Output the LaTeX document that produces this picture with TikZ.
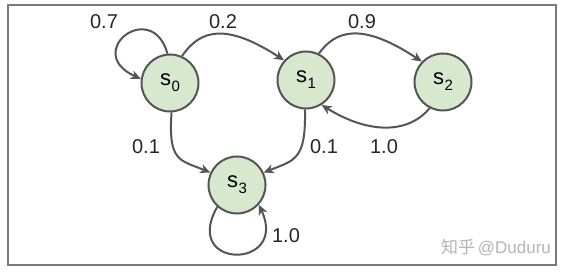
\documentclass[tikz,border=0pt]{standalone}
\usepackage{fontspec}
\setmainfont{Liberation Sans}
\newfontfamily\cjk{Noto Sans CJK SC}
\usetikzlibrary{arrows.meta}
\definecolor{nodefill}{HTML}{D7E8CF}
\definecolor{linegray}{HTML}{555555}
\definecolor{framegray}{HTML}{7A7A7A}
\definecolor{wmgray}{HTML}{B4B4B4}
\newcommand{\stname}[1]{{\fontsize{22}{22}\selectfont s\kern0.5pt\raisebox{-6pt}{\fontsize{15}{15}\selectfont #1}}}
\begin{document}
\begin{tikzpicture}[x=1pt,y=-1pt,
  state/.style={circle,draw=linegray,line width=2pt,fill=nodefill,minimum size=57pt,inner sep=0pt},
  edge/.style={draw=linegray,line width=2pt,-{Stealth[length=10pt,width=9pt,inset=3pt]}},
  lbl/.style={font=\fontsize{20}{20}\selectfont,inner sep=0pt,text=black!85}]
\useasboundingbox (0,0) rectangle (566,273);
\draw[framegray,line width=1.2pt] (8,5) rectangle (556,265);
\node[state] (s0) at (170,83) {\stname{0}};
\node[state] (s1) at (306,80) {\stname{1}};
\node[state] (s2) at (443,82) {\stname{2}};
\node[state] (s3) at (237,185) {\stname{3}};
% edges
\draw[edge] (s0.95) .. controls (152,-2) and (82,52) .. (s0.172);
\draw[edge] (s0.66) .. controls (200,30) and (225,22) .. (s1.138);
\draw[edge] (s1.64) .. controls (336,30) and (362,22) .. (s2.136);
\draw[edge] (s2.243) .. controls (410,132) and (372,136) .. (s1.302);
\draw[edge] (s0.273) .. controls (168,162) and (180,160) .. (s3.155);
\draw[edge] (s1.268) .. controls (306,160) and (295,160) .. (s3.25);
\draw[edge] (s3.228) .. controls (181,270) and (289,270) .. (s3.318);
% labels
\node[lbl] (l07) at (104,22) {0.7};
\node[lbl] (l02) at (223,22) {0.2};
\node[lbl] (l09) at (362,22) {0.9};
\node[lbl] (l01a) at (146,147) {0.1};
\node[lbl] (l01b) at (324,147) {0.1};
\node[lbl] (l10a) at (384,147) {1.0};
\node[lbl] (l10b) at (286,236) {1.0};
\node[text=wmgray,inner sep=0pt] (wm) at (496,248) {{\cjk\fontsize{17}{17}\selectfont 知乎} {\fontsize{17}{17}\selectfont @Duduru}};
\end{tikzpicture}
\end{document}
